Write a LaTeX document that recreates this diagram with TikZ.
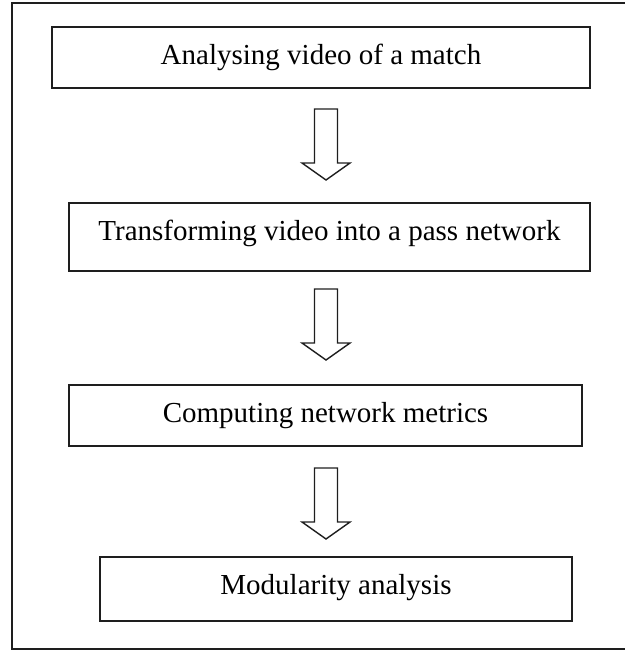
\documentclass[tikz,border=0pt]{standalone}
\usepackage{fontspec}
\setmainfont{Liberation Serif}
\usetikzlibrary{calc}
\definecolor{ink}{HTML}{1E1E1E}
\begin{document}
\begin{tikzpicture}[x=1pt,y=-1pt,
  stepbox/.style={draw=ink, line width=2pt, rectangle, inner sep=0pt,
    font=\fontsize{29}{34}\selectfont, text height=22pt},
  downarrow/.pic={\draw[ink, line width=1.4pt, line join=miter]
      (-11.5,0) -- (11.5,0) -- (11.5,54) -- (24,54) -- (0,71)
      -- (-24,54) -- (-11.5,54) -- cycle;}]
\useasboundingbox (0,0) rectangle (624,652);
% outer frame (right side cut off)
\draw[ink, line width=2pt] (625,3) -- (12,3) -- (12,649) -- (625,649);

\node[stepbox, minimum width=538pt, minimum height=61pt, text depth=7pt]
  (b1) at (321,57.5) {Analysing video of a match};
\node[stepbox, minimum width=521pt, minimum height=68pt, text depth=16pt]
  (b2) at (329.5,237) {Transforming video into a pass network};
\node[stepbox, minimum width=513pt, minimum height=61pt, text depth=9pt]
  (b3) at (325.5,415.5) {Computing network metrics};
\node[stepbox, minimum width=472pt, minimum height=64pt, text depth=12pt]
  (b4) at (336,589) {Modularity analysis};

\coordinate (ax) at (326,0);
\coordinate (s1) at ([yshift=-20pt]b1.south);
\coordinate (s2) at ([yshift=-17pt]b2.south);
\coordinate (s3) at ([yshift=-21pt]b3.south);
\pic at (s1 -| ax) {downarrow};
\pic at (s2 -| ax) {downarrow};
\pic at (s3 -| ax) {downarrow};
\end{tikzpicture}
\end{document}
